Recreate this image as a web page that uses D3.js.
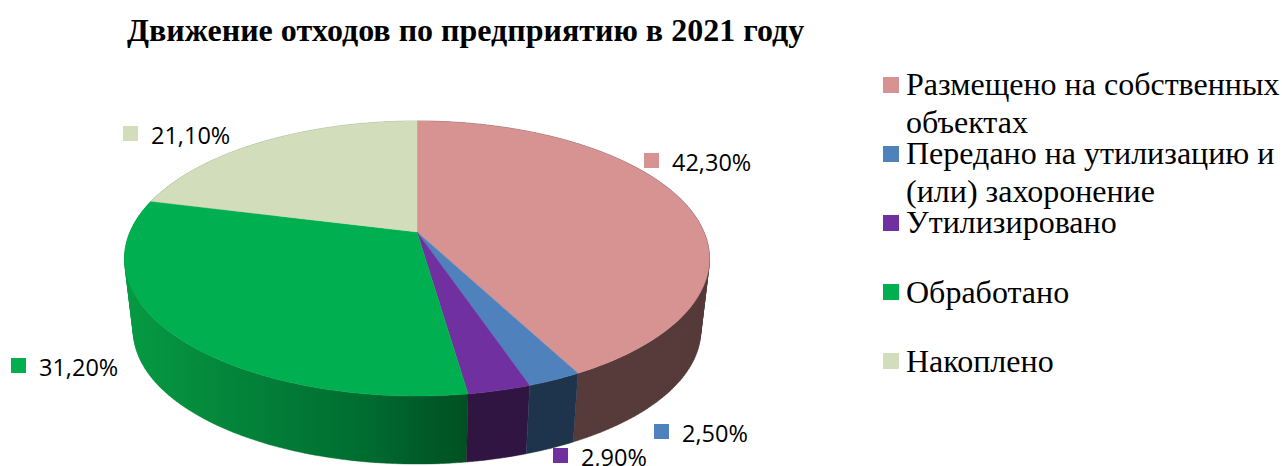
<!DOCTYPE html>
<html><head><meta charset="utf-8">
<script src="https://cdn.jsdelivr.net/npm/d3@7"></script>
<style>html,body{margin:0;padding:0;background:#fff}svg{display:block}</style></head>
<body><svg id="c" width="1282" height="466"></svg>
<script>
const categories = ["Размещено на собственных объектах","Передано на утилизацию и (или) захоронение","Утилизировано","Обработано","Накоплено"];
const values = [42.3,2.5,2.9,31.2,21.1];
const valueLabels = ["42,30%","2,50%","2,90%","31,20%","21,10%"];
const colors = ["#D79392","#4F81BD","#7030A0","#00B050","#D2DDBB"];
const sideColors = ["#573B3B","#1E344D","#301541","url(#greenSide)","#8a917b"];
const title = "Движение отходов по предприятию в 2021 году";

const svg = d3.select("#c");
const font = {serif:"'Liberation Serif','Times New Roman',serif", sans:"'Open Sans',sans-serif"};

const defs = svg.append("defs");
const g = defs.append("linearGradient").attr("id","greenSide").attr("gradientUnits","userSpaceOnUse")
  .attr("x1",125).attr("x2",470).attr("y1",0).attr("y2",0);
[[0,"#069A42"],[0.35,"#03823A"],[0.7,"#006C30"],[0.85,"#005C29"],[1,"#005022"]]
  .forEach(s=>g.append("stop").attr("offset",s[0]).attr("stop-color",s[1]));

// perspective disc projection (far edge foreshortened)
const cx=417, y0Top=232, A=287, B=132.4, p=0.1927, s=0.97, y0Bot=305;
const project=(a,scale,y0)=>{const u=Math.sin(a),v=Math.cos(a),w=1+p*v;
  return [cx+scale*A*u/w, y0-scale*B*v/w];};
const topPt=a=>project(a,1,y0Top), botPt=a=>project(a,s,y0Bot);
const line=d3.line();
const arcs=d3.pie().sort(null).value(d=>d)(values);
const samples=d=>{const n=Math.max(8,Math.ceil((d.endAngle-d.startAngle)*60));
  return d3.range(n+1).map(i=>d.startAngle+(d.endAngle-d.startAngle)*i/n);};

// sides, back to front, then tops: each side is the union of small rim quads
const order=[4,0,3,2,1];
svg.append("g").selectAll("path").data(order).join("path")
  .attr("d",i=>{const t=samples(arcs[i]);
    return d3.pairs(t).map(([a,b])=>line(d3.polygonHull([topPt(a),topPt(b),botPt(b),botPt(a)]))+"Z").join("");})
  .attr("fill",i=>sideColors[i]).attr("stroke",i=>sideColors[i]).attr("stroke-width",0.4);
svg.append("g").selectAll("path").data(arcs).join("path")
  .attr("d",d=>line([[cx,y0Top]].concat(samples(d).map(topPt)))+"Z")
  .attr("fill",(d,i)=>colors[i]).attr("stroke",(d,i)=>colors[i]).attr("stroke-width",0.4);

// title
svg.append("text").attr("x",127).attr("y",41).text(title)
  .attr("font-family",font.serif).attr("font-weight","bold").attr("font-size",32).attr("fill","#000");

// data labels
const labelPos=[[644,153],[654,424],[553,448],[11,358],[123,126]];
const lab=svg.append("g").selectAll("g").data(valueLabels).join("g")
  .attr("transform",(d,i)=>`translate(${labelPos[i][0]},${labelPos[i][1]})`);
lab.append("rect").attr("width",15).attr("height",15).attr("fill",(d,i)=>colors[i]);
lab.append("text").attr("x",28).attr("y",18).text(d=>d)
  .attr("font-family",font.sans).attr("font-size",23.5).attr("fill","#000");

// legend
const legendLines=[["Размещено на собственных","объектах"],["Передано на утилизацию и","(или) захоронение"],["Утилизировано"],["Обработано"],["Накоплено"]];
const legendSquareY=[77,146,215,284,353];
const lineBase=[[95,133],[164,202],[233],[303],[372]];
const leg=svg.append("g").selectAll("g").data(categories).join("g");
leg.append("rect").attr("x",883).attr("y",(d,i)=>legendSquareY[i]).attr("width",16).attr("height",16)
  .attr("fill",(d,i)=>colors[i]);
leg.each(function(d,i){d3.select(this).selectAll("text").data(legendLines[i]).join("text")
  .attr("x",906).attr("y",(t,j)=>lineBase[i][j]).text(t=>t)
  .attr("font-family",font.serif).attr("font-size",32).attr("fill","#000");});
</script></body></html>
